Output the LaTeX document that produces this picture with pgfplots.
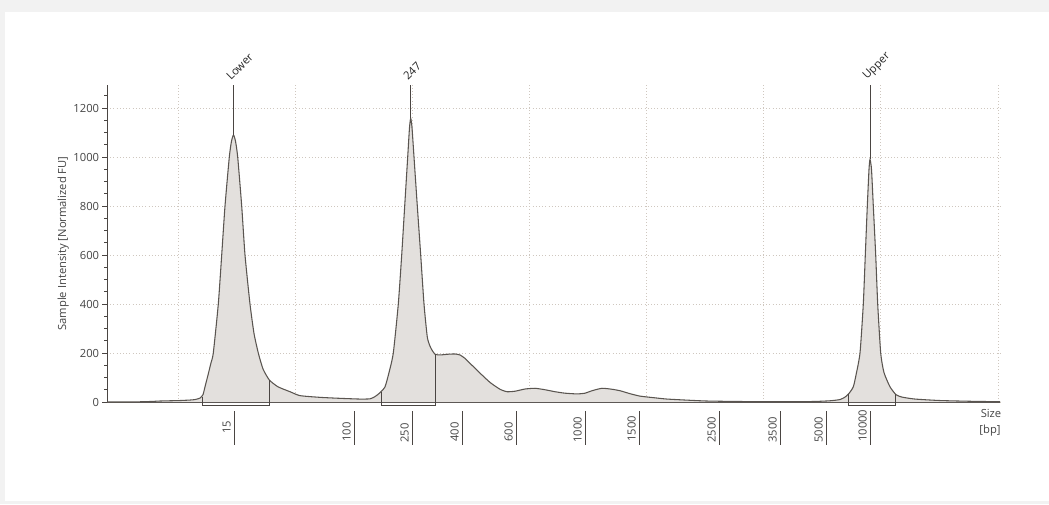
\documentclass[border=0pt]{standalone}
\usepackage{fontspec}
\setmainfont{Open Sans}
\usepackage{pgfplots}
\usepackage{pgfplotstable}
\pgfplotsset{compat=1.18}
\definecolor{framec}{HTML}{F2F2F2}
\definecolor{fillc}{HTML}{E3E0DD}
\definecolor{linec}{HTML}{5A5550}
\definecolor{axc}{HTML}{4A4542}
\definecolor{gridc}{HTML}{CFC7BF}
\definecolor{txt}{HTML}{454545}

% x = position along the size axis (arbitrary units), y = normalized FU
\pgfplotstableread{
x y
107 0
130 0
150 2
160 4
170 5
180 6
190 8
195 10
200 16
203 30
205 62
208 110
211 160
213.3 200
218.3 400
221.7 600
225 800
229.3 1000
231.5 1065
233.5 1090
235.5 1065
237.7 1000
241.7 800
245 600
250 400
254 280
258.3 200
263 135
269.3 90
278 62
290 42
300 26
320 19
340 15
360 12
370 13
375 22
380 38
385 62
389 120
393.3 200
398.3 400
401.7 600
404.7 800
407.7 1000
409.5 1120
410.7 1158
412 1120
414 1000
417.3 800
420.7 600
424 400
427.3 265
430 228
432 212
435 195
440 192
448 195
455 196
460 192
465 178
470 158
480 118
490 80
500 52
507 42
515 44
525 53
535 56
545 50
555 42
565 36
577 33
585 36
592 46
602 56
612 52
620 46
630 34
640 24
655 17
667 12
690 7
707 4
740 2
780 1
813 2
830 5
840 10
845 20
849 35
853.3 62
856 110
860 200
863.3 400
865.3 600
867.3 800
869 950
870 990
871.5 950
873.3 800
875.7 600
877.7 400
880.7 200
884 120
890 62
896 30
902 20
915 12
940 6
970 3
1000 1
}\trace

\begin{document}
\begin{tikzpicture}[x=0.75pt,y=0.75pt]
\useasboundingbox (0,0) rectangle (1049,504);
\fill[framec] (0,0) rectangle (1049,504);
\fill[white] (5,3) rectangle (1049,492);
\begin{axis}[
  at={(80.25pt,76.5pt)}, anchor=south west,
  scale only axis, width=669.75pt, height=237.75pt,
  xmin=107, xmax=1000, ymin=0, ymax=1294,
  clip=false,
  axis lines=left, axis line style={-, axc, line width=0.75pt},
  xtick={178,295.1,412.3,529.4,646.6,763.7,880.9,998},
  xticklabels={}, x tick style={draw=none},
  ytick={0,200,...,1200},
  minor ytick={50,100,...,1250},
  ytick align=outside,
  major tick length=5pt*0.75,
  minor tick length=3pt*0.75,
  y tick style={axc, line width=0.6pt},
  xmajorgrids, ymajorgrids,
  grid style={dotted, gridc, line width=0.75pt},
  /pgf/number format/1000 sep={},
  /pgf/number format/assume math mode=true,
  yticklabel style={font=\fontsize{8.4}{10}\selectfont, text=txt, inner sep=2pt},
  ylabel={Sample Intensity [Normalized FU]},
  ylabel style={font=\fontsize{8.4}{10}\selectfont, text=txt},
  ylabel shift=-2pt,
]
\addplot[fill=fillc, draw=none, smooth, tension=0.35] table[x=x,y=y] {\trace} \closedcycle;
\addplot[linec, line width=0.8pt, smooth, tension=0.35] table[x=x,y=y] {\trace};
% peak region boxes
\addplot[axc, line width=0.75pt] coordinates {(202,20) (202,-16) (269.3,-16) (269.3,90)};
\addplot[axc, line width=0.75pt] coordinates {(381,42) (381,-16) (435,-16) (435,195)};
\addplot[axc, line width=0.75pt] coordinates {(848,32) (848,-16) (895,-16) (895,32)};
% peak markers
\addplot[axc, line width=0.6pt] coordinates {(233.5,1090) (233.5,1294)};
\addplot[axc, line width=0.6pt] coordinates {(410.7,1158) (410.7,1294)};
\addplot[axc, line width=0.6pt] coordinates {(870,990) (870,1294)};
\end{axis}
% peak labels
\begin{scope}[every node/.style={rotate=45, anchor=base west, inner sep=0pt, text=black!85, font=\fontsize{8.4}{10}\selectfont}]
\node at (231,423) {Lower};
\node at (408,423) {247};
\node at (867,424) {Upper};
\end{scope}
% size ticks
\begin{scope}[axc, line width=0.6pt]
\foreach \p in {234,354,412,462,516,585,639,719,780,826,870} {
  \draw (\p,93) -- (\p,59);
}
\end{scope}
\begin{scope}[every node/.style={rotate=90, anchor=base west, inner sep=0pt, text=txt, font=\fontsize{8.4}{10}\selectfont}]
\node at (230.5,70) {15};
\node at (350.5,62) {100};
\node at (408.5,61) {250};
\node at (458.5,62) {400};
\node at (512.5,62) {600};
\node at (581.5,61) {1000};
\node at (635.5,62) {1500};
\node at (715.5,61) {2500};
\node at (776.5,61) {3500};
\node at (822.5,61) {5000};
\node at (866.5,62) {10000};
\end{scope}
\node[text=txt, font=\fontsize{8.4}{10}\selectfont] at (991,91) {Size};
\node[text=txt, font=\fontsize{8.4}{10}\selectfont] at (990,73) {[bp]};
\end{tikzpicture}
\end{document}
